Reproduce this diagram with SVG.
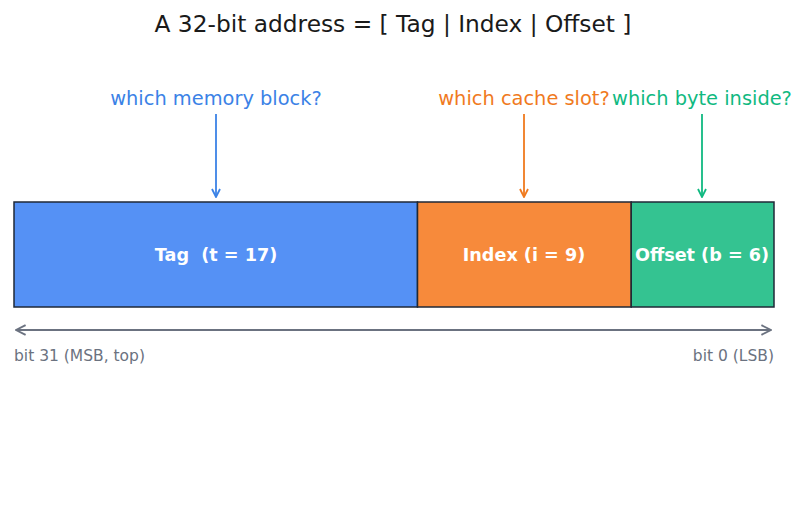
<svg xmlns="http://www.w3.org/2000/svg" width="806" height="510" viewBox="0 0 806 510">
<defs>
<style>
text{font-family:"DejaVu Sans","Liberation Sans",sans-serif}
.title{font-size:23.3px;fill:#1a1a1a;text-anchor:middle}
.q{font-size:19.4px;text-anchor:middle}
.lbl{font-size:17.6px;font-weight:bold;fill:#fff;text-anchor:middle;white-space:pre}
.bit{font-size:15.5px;fill:#6b7280}
.seg{stroke:#1f2937;stroke-width:1.5}
</style>
<marker id="ab" viewBox="0 0 10 10" refX="9" refY="5" markerWidth="10" markerHeight="10" orient="auto-start-reverse" markerUnits="userSpaceOnUse"><path d="M1,1 L9,5 L1,9" fill="none" stroke="#3b82e6" stroke-width="1.8"/></marker>
<marker id="ao" viewBox="0 0 10 10" refX="9" refY="5" markerWidth="10" markerHeight="10" orient="auto-start-reverse" markerUnits="userSpaceOnUse"><path d="M1,1 L9,5 L1,9" fill="none" stroke="#f07a1e" stroke-width="1.8"/></marker>
<marker id="ag" viewBox="0 0 10 10" refX="9" refY="5" markerWidth="10" markerHeight="10" orient="auto-start-reverse" markerUnits="userSpaceOnUse"><path d="M1,1 L9,5 L1,9" fill="none" stroke="#10b981" stroke-width="1.8"/></marker>
<marker id="ay" viewBox="0 0 10 10" refX="9" refY="5" markerWidth="12" markerHeight="12" orient="auto-start-reverse" markerUnits="userSpaceOnUse"><path d="M1,1 L9,5 L1,9" fill="none" stroke="#6b7280" stroke-width="1.6"/></marker>
</defs>
<rect width="806" height="510" fill="#fff"/>
<text class="title" x="393" y="32">A 32-bit address = [ Tag | Index | Offset ]</text>
<g id="tag">
<rect class="seg" x="14" y="202" width="403.5" height="105" fill="#5591f5"/>
<text class="lbl" x="216" y="260.5" xml:space="preserve">Tag  (t = 17)</text>
</g>
<g id="index">
<rect class="seg" x="417.5" y="202" width="213.75" height="105" fill="#f78a3b"/>
<text class="lbl" x="524" y="260.5">Index (i = 9)</text>
</g>
<g id="offset">
<rect class="seg" x="631.25" y="202" width="142.75" height="105" fill="#34c391"/>
<text class="lbl" x="702" y="260.5">Offset (b = 6)</text>
</g>
<g id="q-tag"><text class="q" x="216" y="104.5" fill="#3b82e6">which memory block?</text></g>
<g id="q-index"><text class="q" x="524" y="104.5" fill="#f07a1e">which cache slot?</text></g>
<g id="q-offset"><text class="q" x="702" y="104.5" fill="#10b981">which byte inside?</text></g>
<g id="connectors" fill="none" stroke-width="1.8">
<line x1="216" y1="114" x2="216" y2="197" stroke="#3b82e6" marker-end="url(#ab)"/>
<line x1="524" y1="114" x2="524" y2="197" stroke="#f07a1e" marker-end="url(#ao)"/>
<line x1="702" y1="114" x2="702" y2="197" stroke="#10b981" marker-end="url(#ag)"/>
<line x1="16" y1="330" x2="771" y2="330" stroke="#6b7280" stroke-width="2" marker-start="url(#ay)" marker-end="url(#ay)"/>
</g>
<text class="bit" x="14" y="361">bit 31 (MSB, top)</text>
<text class="bit" x="774" y="361" text-anchor="end">bit 0 (LSB)</text>
</svg>
